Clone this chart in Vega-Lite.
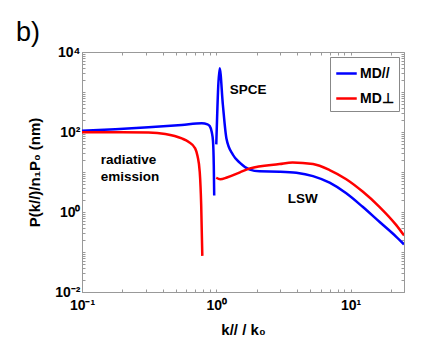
{
  "$schema": "https://vega.github.io/schema/vega-lite/v6.json",
  "width": 322,
  "height": 240,
  "autosize": "none",
  "padding": {"left": 82, "top": 52, "right": 31, "bottom": 63},
  "title": {"text": "b)", "anchor": "start", "frame": "group", "dx": -66, "offset": -2, "fontSize": 27, "fontWeight": "normal", "font": "Liberation Sans", "color": "black"},
  "config": {
    "view": {"stroke": "#999", "strokeWidth": 1},
    "font": "Liberation Sans",
    "axis": {"domainColor": "#999", "tickColor": "#999", "tickSize": -3, "grid": false, "labelFont": "Liberation Sans", "labelFontWeight": "bold", "labelFontSize": 14, "labelColor": "black", "titleFont": "Liberation Sans", "titleFontWeight": "bold", "titleFontSize": 15, "titleColor": "black", "labelOverlap": false, "labelBound": false, "labelFlush": false},
    "legend": {"orient": "top-right", "offset": 5, "strokeColor": "#888", "fillColor": "white", "padding": 5, "labelFont": "Liberation Sans", "labelFontSize": 14, "labelFontWeight": "bold", "labelColor": "black", "symbolType": "stroke", "symbolSize": 420, "symbolStrokeWidth": 2.5, "rowPadding": 6, "labelOffset": 2}
  },
  "resolve": {"axis": {"x": "independent", "y": "independent"}},
  "datasets": {
    "curves": [
      {"series": "MD//", "seg": "b1", "k": 0.1, "p": 107},
      {"series": "MD//", "seg": "b1", "k": 0.177, "p": 117},
      {"series": "MD//", "seg": "b1", "k": 0.313, "p": 131},
      {"series": "MD//", "seg": "b1", "k": 0.553, "p": 150},
      {"series": "MD//", "seg": "b1", "k": 0.78, "p": 165},
      {"series": "MD//", "seg": "b1", "k": 0.86, "p": 155},
      {"series": "MD//", "seg": "b1", "k": 0.893, "p": 141},
      {"series": "MD//", "seg": "b1", "k": 0.925, "p": 100},
      {"series": "MD//", "seg": "b1", "k": 0.945, "p": 60},
      {"series": "MD//", "seg": "b1", "k": 0.958, "p": 15},
      {"series": "MD//", "seg": "b1", "k": 0.965, "p": 2.6},
      {"series": "MD//", "seg": "b2", "k": 1.0, "p": 49},
      {"series": "MD//", "seg": "b2", "k": 1.06, "p": 3900},
      {"series": "MD//", "seg": "b2", "k": 1.12, "p": 473},
      {"series": "MD//", "seg": "b2", "k": 1.19, "p": 69},
      {"series": "MD//", "seg": "b2", "k": 1.33, "p": 27},
      {"series": "MD//", "seg": "b2", "k": 1.5, "p": 17},
      {"series": "MD//", "seg": "b2", "k": 1.78, "p": 11.5},
      {"series": "MD//", "seg": "b2", "k": 2.1, "p": 10.4},
      {"series": "MD//", "seg": "b2", "k": 2.96, "p": 10.2},
      {"series": "MD//", "seg": "b2", "k": 3.95, "p": 9.6},
      {"series": "MD//", "seg": "b2", "k": 5.25, "p": 7.9},
      {"series": "MD//", "seg": "b2", "k": 6.98, "p": 5.4},
      {"series": "MD//", "seg": "b2", "k": 9.29, "p": 2.94},
      {"series": "MD//", "seg": "b2", "k": 12.3, "p": 1.35},
      {"series": "MD//", "seg": "b2", "k": 16.4, "p": 0.57},
      {"series": "MD//", "seg": "b2", "k": 21.9, "p": 0.24},
      {"series": "MD//", "seg": "b2", "k": 25, "p": 0.155},
      {"series": "MD⊥", "seg": "r1", "k": 0.1, "p": 98},
      {"series": "MD⊥", "seg": "r1", "k": 0.2, "p": 98},
      {"series": "MD⊥", "seg": "r1", "k": 0.313, "p": 97},
      {"series": "MD⊥", "seg": "r1", "k": 0.417, "p": 89},
      {"series": "MD⊥", "seg": "r1", "k": 0.553, "p": 69},
      {"series": "MD⊥", "seg": "r1", "k": 0.62, "p": 57},
      {"series": "MD⊥", "seg": "r1", "k": 0.696, "p": 39},
      {"series": "MD⊥", "seg": "r1", "k": 0.725, "p": 25},
      {"series": "MD⊥", "seg": "r1", "k": 0.753, "p": 10},
      {"series": "MD⊥", "seg": "r1", "k": 0.772, "p": 1.5},
      {"series": "MD⊥", "seg": "r1", "k": 0.787, "p": 0.08},
      {"series": "MD⊥", "seg": "r2", "k": 1.0, "p": 7.2},
      {"series": "MD⊥", "seg": "r2", "k": 1.07, "p": 6.6},
      {"series": "MD⊥", "seg": "r2", "k": 1.2, "p": 7.3},
      {"series": "MD⊥", "seg": "r2", "k": 1.5, "p": 9.8},
      {"series": "MD⊥", "seg": "r2", "k": 1.78, "p": 12.3},
      {"series": "MD⊥", "seg": "r2", "k": 2.96, "p": 15.8},
      {"series": "MD⊥", "seg": "r2", "k": 3.7, "p": 17.3},
      {"series": "MD⊥", "seg": "r2", "k": 5.25, "p": 15.8},
      {"series": "MD⊥", "seg": "r2", "k": 6.98, "p": 11.2},
      {"series": "MD⊥", "seg": "r2", "k": 9.29, "p": 6.6},
      {"series": "MD⊥", "seg": "r2", "k": 12.3, "p": 3.24},
      {"series": "MD⊥", "seg": "r2", "k": 16.4, "p": 1.35},
      {"series": "MD⊥", "seg": "r2", "k": 21.9, "p": 0.47},
      {"series": "MD⊥", "seg": "r2", "k": 25, "p": 0.26}
    ],
    "notes": [
      {"label": ["radiative", "emission"], "k": 0.138, "p": 20},
      {"label": ["SPCE"], "k": 1.26, "p": 1120},
      {"label": ["LSW"], "k": 3.4, "p": 2.1}
    ]
  },
  "layer": [
    {
      "data": {"name": "curves"},
      "mark": {"type": "line", "strokeWidth": 2.5, "clip": true, "interpolate": "monotone"},
      "encoding": {
        "x": {"field": "k", "type": "quantitative", "scale": {"type": "log", "domain": [0.1, 25], "nice": false},
              "axis": {"title": "k// / k₀", "values": [0.1,0.2,0.3,0.4,0.5,0.6,0.7,0.8,0.9,1,2,3,4,5,6,7,8,9,10,20],
                       "labelExpr": "datum.value == 0.1 ? '10⁻¹' : datum.value == 1 ? '10⁰' : datum.value == 10 ? '10¹' : ''",
                       "labelPadding": 9, "titlePadding": 10}},
        "y": {"field": "p", "type": "quantitative", "scale": {"type": "log", "domain": [0.01, 10000], "nice": false},
              "axis": {"title": "P(k//)/n₁P₀ (nm)", "values": [0.01,0.02,0.03,0.04,0.05,0.06,0.07,0.08,0.09,0.1,0.2,0.3,0.4,0.5,0.6,0.7,0.8,0.9,1,2,3,4,5,6,7,8,9,10,20,30,40,50,60,70,80,90,100,200,300,400,500,600,700,800,900,1000,2000,3000,4000,5000,6000,7000,8000,9000,10000],
                       "labelExpr": "datum.value == 0.01 ? '10⁻²' : datum.value == 1 ? '10⁰' : datum.value == 100 ? '10²' : datum.value == 10000 ? '10⁴' : ''",
                       "labelPadding": 5, "titlePadding": 12}},
        "color": {"field": "series", "type": "nominal", "scale": {"domain": ["MD//", "MD⊥"], "range": ["#0000ff", "#ff0000"]}, "legend": {"title": null}},
        "detail": {"field": "seg"}
      }
    },
    {
      "data": {"name": "notes"},
      "mark": {"type": "text", "align": "left", "baseline": "middle", "fontSize": 13.5, "fontWeight": "bold", "font": "Liberation Sans", "color": "black", "lineHeight": 17},
      "encoding": {
        "x": {"field": "k", "type": "quantitative",
              "axis": {"orient": "top", "title": null, "labels": false, "domain": false, "values": [0.1,0.2,0.3,0.4,0.5,0.6,0.7,0.8,0.9,1,2,3,4,5,6,7,8,9,10,20]}},
        "y": {"field": "p", "type": "quantitative",
              "axis": {"orient": "right", "title": null, "labels": false, "domain": false, "values": [0.01,0.02,0.03,0.04,0.05,0.06,0.07,0.08,0.09,0.1,0.2,0.3,0.4,0.5,0.6,0.7,0.8,0.9,1,2,3,4,5,6,7,8,9,10,20,30,40,50,60,70,80,90,100,200,300,400,500,600,700,800,900,1000,2000,3000,4000,5000,6000,7000,8000,9000,10000]}},
        "text": {"field": "label"}
      }
    }
  ]
}
